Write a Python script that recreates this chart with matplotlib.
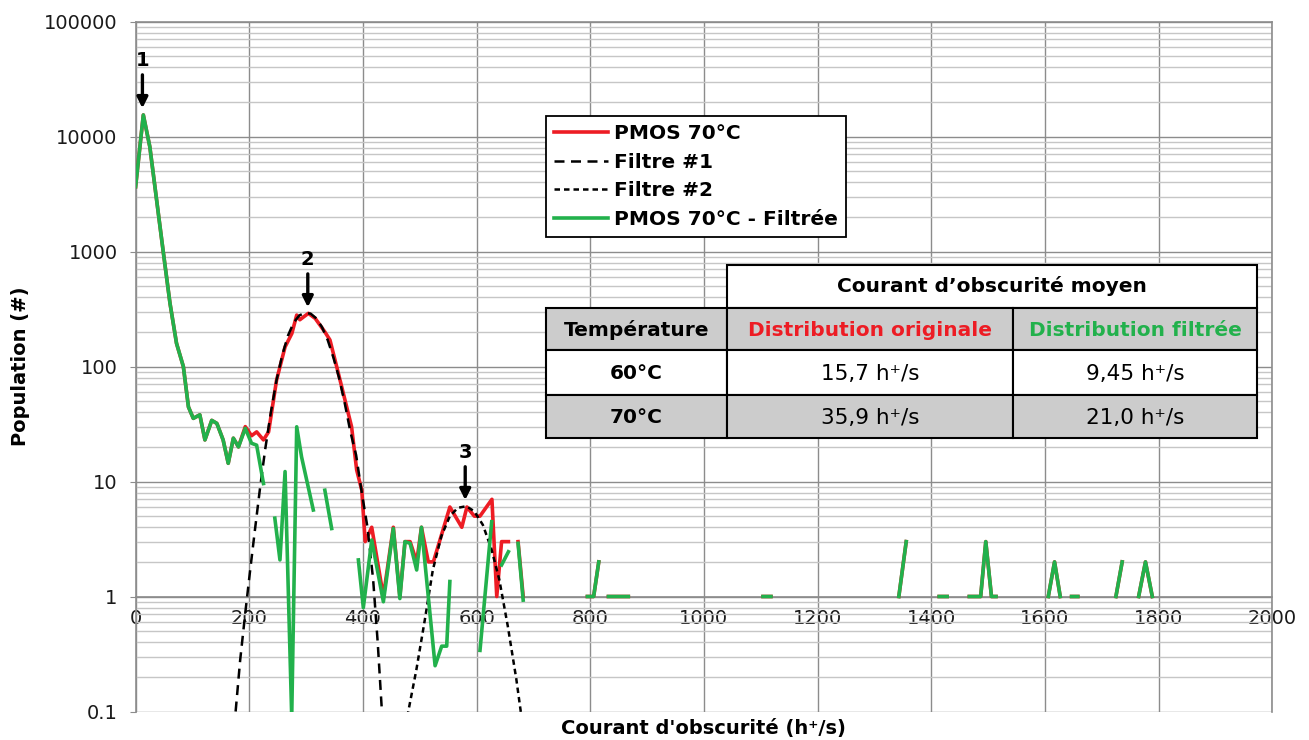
'''
Histogramme du courant d'obscurité PMOS 70°C, original et filtré
'''
import numpy as np
import matplotlib
matplotlib.use('Agg')
import matplotlib.pyplot as plt
from matplotlib.patches import Rectangle
from matplotlib.ticker import FixedLocator, LogLocator, MultipleLocator, FuncFormatter, NullFormatter

plt.rcParams['font.family'] = ['DejaVu Sans']
nan = np.nan

# --- data ---
pmos_x = [0, 13.6, 25, 34, 43, 49, 60.5, 72, 84, 93, 101.5, 113, 122, 134, 143, 154, 163, 172, 181,
          193, 204, 213, 225, 234, 248, 263, 275, 283.5, 289, 304, 316, 333, 342, 354, 365.5, 380,
          389, 398, 404, 415.5, 436, 453.5, 465, 474, 483, 494.6, 503, 515, 524, 553, 574, 583,
          596, 606, 627, 635.5, 644, 656, nan, 673, 682]
pmos_y = [3660, 15400, 8150, 3660, 1640, 965, 355, 159, 100, 44.5, 35.4, 38, 23, 34, 32, 23, 14.4, 23.8, 20,
          30, 25, 27, 23, 27, 76, 148, 194, 280, 255, 290, 262, 200, 170, 99, 58.5, 30,
          12.6, 8.4, 3, 4, 1, 4, 1, 3, 3, 2, 4, 2, 2, 6, 4, 6,
          5, 5, 7, 1, 3, 3, nan, 3, 1]

filt_x = [0, 13.6, 25, 34, 43, 49, 60.5, 72, 84, 93, 101.5, 113, 122, 134, 143, 154, 163, 172, 181,
          193, 204, 213, 225, nan, 245, 254, 263, 274.7, 283.5, 292, 312.7, nan, 333, 345, nan,
          392, 400.7, 415.5, 436, 453.5, 465, 474, 483, 494.6, 503, 515, 527, 538.6, 547.4, 553, nan,
          606, 626.6, nan, 644, 656, nan, 673, 682]
filt_y = [3660, 15400, 8150, 3660, 1640, 965, 355, 159, 100, 44.5, 35.4, 38, 23, 34, 32, 23, 14.4, 23.8, 20,
          29, 21.5, 20.7, 9.6, nan, 4.8, 2.08, 12.2, 0.09, 29.9, 16.4, 5.65, nan, 8.4, 3.9, nan,
          2.08, 0.8, 3.1, 0.9, 3.9, 0.96, 3.0, 2.9, 1.7, 4.0, 1.0, 0.25, 0.37, 0.37, 1.35, nan,
          0.34, 4.47, nan, 1.88, 2.45, nan, 2.9, 0.93]

# sparse tail, same for both distributions
tail_x = [nan, 795, 806, 815, nan, 832, 850, 867, nan, 1104, 1118, nan, 1343, 1356, nan, 1414, 1428, nan,
          1467, 1477, 1487, 1496, 1506, 1514, nan, 1606, 1617, 1627, nan, 1647, 1658, nan,
          1725, 1736, nan, 1765, 1777, 1789]
tail_y = [nan, 1, 1, 2, nan, 1, 1, 1, nan, 1, 1, nan, 1, 3, nan, 1, 1, nan,
          1, 1, 1, 3, 1, 1, nan, 1, 2, 1, nan, 1, 1, nan,
          1, 2, nan, 1, 2, 1]

f1_x = [176, 184, 193, 201, 210, 219, 228, 238, 248, 258, 268, 278, 288, 298, 308, 318, 328, 338,
        348, 358, 368, 378, 388, 398, 408, 418, 426, 434]
f1_y = [0.1, 0.28, 0.72, 1.6, 3.8, 8.8, 19, 40, 76, 125, 185, 240, 278, 292, 288, 262, 220, 170,
        120, 80, 48, 27, 17, 8, 4.0, 1.4, 0.4, 0.09]

f2_x = [478, 494, 509, 523, 538, 553, 567, 582, 596, 611, 626, 640, 655, 670, 679]
f2_y = [0.09, 0.23, 0.63, 1.7, 3.35, 5.0, 5.9, 6.1, 5.5, 4.2, 2.6, 1.4, 0.55, 0.19, 0.09]

peak_labels = ['1', '2', '3']
peak_x = [12, 303, 580]
peak_y = [15600, 290, 6.1]

y_ticks = [0.1, 1, 10, 100, 1000, 10000, 100000]

table_head = 'Courant d\u2019obscurité moyen'
table_cols = ['Température', 'Distribution originale', 'Distribution filtrée']
table_temps = ['60°C', '70°C']
table_orig = ['15,7 h\u207a/s', '35,9 h\u207a/s']
table_filt = ['9,45 h\u207a/s', '21,0 h\u207a/s']

RED = '#ed1c24'
GREEN = '#22b14c'
GRID = '#8c8c8c'
MINOR = '#c6c6c6'

fig = plt.figure(figsize=(13.09, 7.40), dpi=100)
ax = fig.add_axes([135.6 / 1309, 1 - 711.5 / 740, (1272.2 - 135.6) / 1309, 690 / 740])

ax.plot(pmos_x + tail_x, pmos_y + tail_y, color=RED, lw=2.6, label='PMOS 70°C', zorder=3)
ax.plot(f1_x, f1_y, color='black', lw=1.8, ls=(0, (4, 2.6)), label='Filtre #1', zorder=4)
ax.plot(f2_x, f2_y, color='black', lw=1.8, ls=(0, (2.2, 1.6)), label='Filtre #2', zorder=4)
ax.plot(filt_x + tail_x, filt_y + tail_y, color=GREEN, lw=2.6, label='PMOS 70°C - Filtrée', zorder=5)

ax.set_yscale('log')
ax.set_xlim(0, 2000)
ax.set_ylim(0.1, 100000)
ax.xaxis.set_major_locator(MultipleLocator(200))
ax.yaxis.set_major_locator(FixedLocator(y_ticks))
ax.yaxis.set_minor_locator(LogLocator(base=10, subs=np.arange(2, 10), numticks=20))
ax.yaxis.set_major_formatter(FuncFormatter(lambda v, _: f'{v:g}'))
ax.yaxis.set_minor_formatter(NullFormatter())

ax.grid(True, which='major', color=GRID, lw=1.0, zorder=0)
ax.grid(True, which='minor', axis='y', color=MINOR, lw=1.0, zorder=0)
ax.set_axisbelow(True)

ax.spines['bottom'].set_position(('data', 1))
for s in ax.spines.values():
    s.set_color(GRID)
    s.set_linewidth(1.2)
ax.tick_params(axis='x', length=0, pad=9, labelsize=14, labelcolor='#1a1a1a')
ax.tick_params(axis='y', which='major', length=4, color=GRID, pad=9, labelsize=14, labelcolor='#1a1a1a')
ax.tick_params(axis='y', which='minor', length=0)

ax.set_xlabel('Courant d\'obscurité (h\u207a/s)', fontsize=14, fontweight='bold', va='center')
ax.xaxis.set_label_coords(0.5, -0.024)
ax.set_ylabel('Population (#)', fontsize=14, fontweight='bold', va='center')
ax.yaxis.set_label_coords(-0.101, 0.5)

# peak markers
for lbl, px, py in zip(peak_labels, peak_x, peak_y):
    tip = py * 1.13
    ax.annotate('', xy=(px, tip), xytext=(0, 24), textcoords='offset points',
                arrowprops=dict(arrowstyle='-|>', lw=2.4, color='black', mutation_scale=16,
                                shrinkA=0, shrinkB=0), zorder=6)
    ax.annotate(lbl, xy=(px, tip), xytext=(0, 34), textcoords='offset points',
                ha='center', va='center', fontsize=14, fontweight='bold', zorder=6)

leg = ax.legend(loc='upper left', bbox_to_anchor=(546 / 1309, 1 - 116 / 740), bbox_transform=fig.transFigure,
                borderaxespad=0, prop=dict(size=14.5, weight='bold'), handlelength=2.7, handletextpad=0.3,
                labelspacing=0.48, borderpad=0.4, fancybox=False, framealpha=1, edgecolor='black')
leg.get_frame().set_linewidth(1.3)
leg.set_zorder(10)

# table overlay in pixel coordinates
tab = fig.add_axes([0, 0, 1, 1], zorder=20)
tab.set_xlim(0, 1309)
tab.set_ylim(740, 0)
tab.axis('off')

col_edges = [546, 727, 1013, 1257]
row_edges = [308, 350, 395, 438]
row_fill = ['#cccccc', 'white', '#cccccc']

tab.add_patch(Rectangle((727, 265), 1257 - 727, 308 - 265, facecolor='white', edgecolor='black', lw=1.5))
tab.text((727 + 1257) / 2, (265 + 308) / 2, table_head, ha='center', va='center', fontsize=14.5, fontweight='bold')

rows = [table_cols,
        [table_temps[0], table_orig[0], table_filt[0]],
        [table_temps[1], table_orig[1], table_filt[1]]]
for r in range(3):
    y0, y1 = row_edges[r], row_edges[r + 1]
    for c in range(3):
        x0, x1 = col_edges[c], col_edges[c + 1]
        tab.add_patch(Rectangle((x0, y0), x1 - x0, y1 - y0, facecolor=row_fill[r], edgecolor='black', lw=1.5))
        if r == 0:
            color = ['black', RED, GREEN][c]
            kw = dict(fontsize=14.5, fontweight='bold', color=color)
        elif c == 0:
            kw = dict(fontsize=14.5, fontweight='bold')
        else:
            kw = dict(fontsize=15.5)
        tab.text((x0 + x1) / 2, (y0 + y1) / 2 + 1, rows[r][c], ha='center', va='center', **kw)

fig.savefig('out.png', dpi=100)
